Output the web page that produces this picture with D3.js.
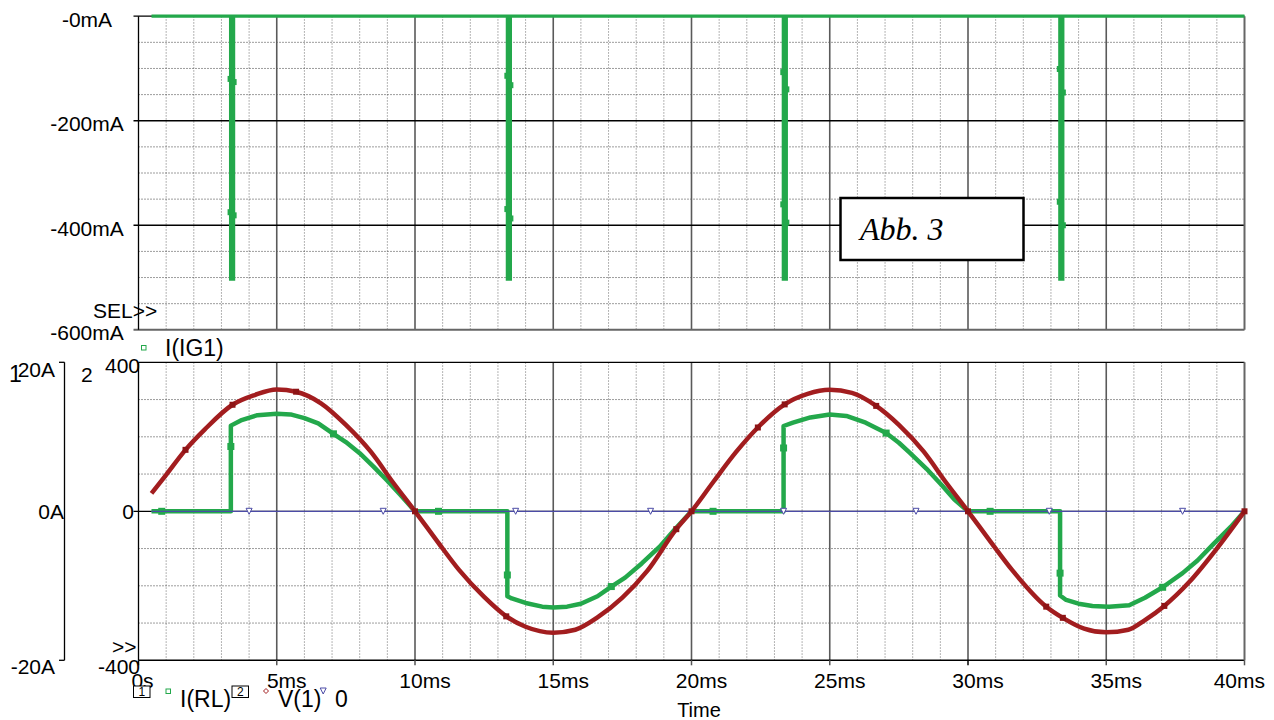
<!DOCTYPE html>
<html>
<head>
<meta charset="utf-8">
<script src="https://cdn.jsdelivr.net/npm/d3@7"></script>
<style>
  html, body { margin: 0; padding: 0; background: #fff; }
  svg { display: block; }
  text { font-family: "Liberation Sans", Arial, sans-serif; fill: #000; }
</style>
</head>
<body>
<svg id="chart" width="1274" height="720"></svg>
<script>
// ---------------- DATA ----------------
const xTickValues = [0, 5, 10, 15, 20, 25, 30, 35, 40];
const xTickLabels = ["0s", "5ms", "10ms", "15ms", "20ms", "25ms", "30ms", "35ms", "40ms"];

const topTickValues = [0, -200, -400, -600];
const topTickLabels = ["-0mA", "-200mA", "-400mA", "-600mA"];

// I(IG1) in mA (top plot)
const igTime = [0.47, 3.33, 3.33, 3.44, 3.44, 13.34, 13.34, 13.45, 13.45,
                23.32, 23.32, 23.43, 23.43, 33.32, 33.32, 33.43, 33.43, 40];
const igMA   = [0, 0, -503, -503, 0, 0, -503, -503, 0,
                0, -503, -503, 0, 0, -503, -503, 0, 0];
const igMarkT = [3.33, 3.44, 3.33, 3.44, 13.34, 13.45, 13.34, 13.45,
                 23.32, 23.43, 23.32, 23.43, 33.32, 33.43, 33.32, 33.43];
const igMarkV = [-120, -126, -375, -381, -114, -132, -369, -387,
                 -107, -140, -360, -395, -101, -146, -355, -400];

// I(RL) in A (bottom plot, axis 1)
const rlTime = [0.47, 3.34, 3.34, 3.7, 4.3, 5.0, 5.5, 6.0, 6.5, 7.05, 7.5, 8.0, 8.5, 9.0, 9.5, 10.0,
                13.34, 13.34, 13.5, 14.0, 14.6, 15.0, 15.5, 16.0, 16.6, 17.1, 17.6, 18.2, 18.85, 19.4, 20.0,
                23.33, 23.33, 23.67, 24.3, 25.0, 25.6, 26.3, 27.04, 27.5, 27.88, 28.5, 29.08, 29.5, 30.0,
                33.33, 33.33, 33.55, 34.0, 34.5, 35.1, 35.83, 36.4, 37.04, 37.76, 38.3, 38.9, 39.5, 40.0];
const rlAmp  = [0, 0, 11.5, 12.2, 12.9, 13.1, 13.0, 12.5, 11.8, 10.4, 9.3, 7.8, 6.0, 4.1, 2.1, 0,
                0, -11.4, -11.7, -12.3, -12.8, -12.9, -12.8, -12.4, -11.4, -10.1, -8.9, -7.0, -4.75, -2.4, 0,
                0, 11.45, 11.9, 12.6, 13.0, 12.8, 11.9, 10.5, 9.2, 7.9, 5.7, 3.4, 1.6, 0,
                0, -11.3, -11.9, -12.4, -12.7, -12.8, -12.6, -11.6, -10.2, -8.3, -6.6, -4.3, -2.1, 0];
const rlMarkT = [0.84, 3.34, 7.05, 10.85, 13.34, 17.1, 20.78, 23.33, 27.04, 30.8, 33.33, 37.04];
const rlMarkV = [0, 8.7, 10.4, 0, -8.55, -10.1, 0, 8.5, 10.5, 0, -8.3, -10.2];

// V(1) in V (bottom plot, axis 2)
const vTime = [0.47, 1.0, 1.7, 2.4, 3.4, 4.2, 5.0, 5.7, 6.6, 7.5, 8.4, 9.2, 10,
               10.8, 11.6, 12.5, 13.3, 14.0, 15.0, 15.8, 16.6, 17.5, 18.4, 19.45, 20,
               20.8, 21.6, 22.4, 23.37, 24.2, 25, 25.8, 26.68, 27.5, 28.4, 29.2, 30,
               30.8, 31.6, 32.83, 33.43, 34.2, 35, 35.8, 36.4, 37.1, 38, 39, 40];
const vVolt = [48, 98, 165, 220, 286, 312, 327, 321, 290, 232, 160, 78, 0,
               -80, -158, -230, -282, -310, -326, -318, -285, -232, -160, -48, 0,
               80, 158, 225, 287, 315, 326, 318, 283, 232, 160, 78, 0,
               -80, -158, -256, -286, -315, -325, -318, -292, -254, -190, -100, 0];
const vMarkT = [1.7, 3.4, 5.7, 10, 13.3, 19.45, 20, 22.4, 23.37, 26.68, 30, 32.83, 33.43, 37.1, 40];
const vMarkV = [165, 286, 321, 0, -282, -48, 0, 225, 287, 283, 0, -256, -286, -254, 0];

// "0" reference trace
const zeroTime = [0.47, 40];
const zeroVal  = [0, 0];
const zeroMarkT = [4.0, 8.85, 13.64, 18.52, 23.33, 28.12, 32.94, 37.76];

// ---------------- STYLE ----------------
const GREEN = "#23a84b";
const RED = "#a21d1f";
const BLUE = "#4b4ba6";

// ---------------- SCALES ----------------
const svg = d3.select("#chart");
const x = d3.scaleLinear().domain([0, 40]).range([138.5, 1244.5]);
const yTop = d3.scaleLinear().domain([-600, 0]).range([329.8, 16.2]);
const yV = d3.scaleLinear().domain([-400, 400]).range([660.3, 362.3]);
const yI = d3.scaleLinear().domain([-20, 20]).range([660.3, 362.3]);

const X0 = x(0), X1 = x(40);

// ---------------- GRID ----------------
const grid = svg.append("g");
const minorT = d3.range(1, 40).filter(t => t % 5 !== 0);
const majorT = d3.range(5, 40, 5);

function vGrid(y0, y1) {
  grid.selectAll(null).data(minorT).enter().append("line")
    .attr("x1", d => x(d)).attr("x2", d => x(d))
    .attr("y1", y0).attr("y2", y1)
    .attr("stroke", "#9c9c9c").attr("stroke-width", 1)
    .attr("stroke-dasharray", "1.5,1.5");
}
vGrid(yTop(0), yTop(-600));
vGrid(yV(400), yV(-400));

// top horizontal minor every 50 mA
const topMinor = d3.range(-550, 0, 50).filter(v => v % 200 !== 0);
grid.selectAll(null).data(topMinor).enter().append("line")
  .attr("x1", X0).attr("x2", X1)
  .attr("y1", d => yTop(d)).attr("y2", d => yTop(d))
  .attr("stroke", "#3a3a3a").attr("stroke-width", 1).attr("stroke-dasharray", "1,2");
// bottom horizontal minor every 100 V
const botMinor = [-300, -200, -100, 100, 200, 300];
grid.selectAll(null).data(botMinor).enter().append("line")
  .attr("x1", X0).attr("x2", X1)
  .attr("y1", d => yV(d)).attr("y2", d => yV(d))
  .attr("stroke", "#3a3a3a").attr("stroke-width", 1).attr("stroke-dasharray", "1,2");

// major verticals
[[yTop(0), yTop(-600)], [yV(400), yV(-400)]].forEach(([a, b]) => {
  grid.selectAll(null).data(majorT).enter().append("line")
    .attr("x1", d => x(d)).attr("x2", d => x(d))
    .attr("y1", a).attr("y2", b)
    .attr("stroke", "#5a5a5a").attr("stroke-width", 1.6);
});
// major horizontals
[-200, -400].forEach(v => grid.append("line")
  .attr("x1", X0 - 5).attr("x2", X1).attr("y1", yTop(v)).attr("y2", yTop(v))
  .attr("stroke", "#000").attr("stroke-width", 1.3));
grid.append("line").attr("x1", X0 - 5).attr("x2", X1).attr("y1", yV(0)).attr("y2", yV(0))
  .attr("stroke", "#000").attr("stroke-width", 1.3);

// frames
const fr = svg.append("g");
fr.append("line").attr("x1", X0 - 5).attr("x2", X1).attr("y1", yTop(0)).attr("y2", yTop(0)).attr("stroke", "#000").attr("stroke-width", 1.3);
fr.append("line").attr("x1", X0 - 5).attr("x2", X1).attr("y1", yTop(-600)).attr("y2", yTop(-600)).attr("stroke", "#666").attr("stroke-width", 2);
fr.append("line").attr("x1", X0).attr("x2", X0).attr("y1", yTop(0)).attr("y2", yTop(-600)).attr("stroke", "#000").attr("stroke-width", 1.3);
fr.append("line").attr("x1", X1).attr("x2", X1).attr("y1", yTop(0)).attr("y2", yTop(-600)).attr("stroke", "#666").attr("stroke-width", 2);
fr.append("line").attr("x1", X0).attr("x2", X1).attr("y1", yV(400)).attr("y2", yV(400)).attr("stroke", "#000").attr("stroke-width", 1.3);
fr.append("line").attr("x1", X0).attr("x2", X1).attr("y1", yV(-400)).attr("y2", yV(-400)).attr("stroke", "#000").attr("stroke-width", 1.5);
fr.append("line").attr("x1", X0).attr("x2", X0).attr("y1", yV(400)).attr("y2", yV(-400)).attr("stroke", "#000").attr("stroke-width", 1.3);
fr.append("line").attr("x1", X1).attr("x2", X1).attr("y1", yV(400)).attr("y2", yV(-400)).attr("stroke", "#666").attr("stroke-width", 2);
fr.selectAll(null).data(xTickValues).enter().append("line")
  .attr("x1", d => x(d)).attr("x2", d => x(d))
  .attr("y1", yV(-400)).attr("y2", yV(-400) + 5)
  .attr("stroke", d => (d === 0 || d === 30) ? "#000" : "#555").attr("stroke-width", 1.5);

// axis 1 (I(RL)) separate line
fr.append("line").attr("x1", 64.5).attr("x2", 64.5).attr("y1", yI(20)).attr("y2", yI(-20)).attr("stroke", "#000").attr("stroke-width", 1.3);
[20, -20].forEach(v => fr.append("line").attr("x1", 59).attr("x2", 64.5).attr("y1", yI(v)).attr("y2", yI(v)).attr("stroke", "#000").attr("stroke-width", 1.3));

// ---------------- TRACES ----------------
const traces = svg.append("g");

// top I(IG1)
const igData = igTime.map((t, i) => [t, igMA[i]]);
traces.append("path").datum(igData)
  .attr("d", d3.line().x(d => x(d[0])).y(d => yTop(d[1])))
  .attr("fill", "none").attr("stroke", GREEN).attr("stroke-width", 3.2);
traces.selectAll(null).data(igMarkT.map((t, i) => [t, igMarkV[i]])).enter().append("rect")
  .attr("x", d => x(d[0]) - 3).attr("y", d => yTop(d[1]) - 3)
  .attr("width", 6).attr("height", 6).attr("fill", GREEN);

// I(RL)
const rlData = rlTime.map((t, i) => [t, rlAmp[i]]);
traces.append("path").datum(rlData)
  .attr("d", d3.line().x(d => x(d[0])).y(d => yI(d[1])))
  .attr("fill", "none").attr("stroke", GREEN).attr("stroke-width", 4.5)
  .attr("stroke-linejoin", "round");
traces.selectAll(null).data(rlMarkT.map((t, i) => [t, rlMarkV[i]])).enter().append("rect")
  .attr("x", d => x(d[0]) - 3.5).attr("y", d => yI(d[1]) - 3.5)
  .attr("width", 7).attr("height", 7).attr("fill", GREEN);

// "0" trace
const zData = zeroTime.map((t, i) => [t, zeroVal[i]]);
traces.append("path").datum(zData)
  .attr("d", d3.line().x(d => x(d[0])).y(d => yV(d[1])))
  .attr("fill", "none").attr("stroke", BLUE).attr("stroke-width", 1.3);

// V(1)
const vData = vTime.map((t, i) => [t, vVolt[i]]);
traces.append("path").datum(vData)
  .attr("d", d3.line().curve(d3.curveMonotoneX).x(d => x(d[0])).y(d => yV(d[1])))
  .attr("fill", "none").attr("stroke", RED).attr("stroke-width", 4.5)
  .attr("stroke-linejoin", "round");
traces.selectAll(null).data(vMarkT.map((t, i) => [t, vMarkV[i]])).enter().append("rect")
  .attr("x", d => x(d[0]) - 3).attr("y", d => yV(d[1]) - 3)
  .attr("width", 6).attr("height", 6).attr("fill", "#8e1416");

// zero-trace triangles
const tri = (cx, cy) => `M${cx - 3},${cy - 3}L${cx + 3},${cy - 3}L${cx},${cy + 3}Z`;
traces.selectAll(null).data(zeroMarkT).enter().append("path")
  .attr("d", d => tri(x(d), yV(0)))
  .attr("fill", "#fff").attr("stroke", BLUE).attr("stroke-width", 1);

// ---------------- TEXT ----------------
const txt = svg.append("g").style("font-size", "21px");

txt.selectAll(null).data(topTickValues).enter().append("text")
  .attr("x", 87).attr("y", d => yTop(d) + 10.5)
  .attr("text-anchor", "middle")
  .text((d, i) => topTickLabels[i]);

txt.append("text").attr("x", 93).attr("y", 318).text("SEL>>");
txt.append("text").attr("x", 112).attr("y", 654).text(">>");

txt.append("text").attr("x", 55).attr("y", yI(20) + 14.5).attr("text-anchor", "end").text("20A");
txt.append("text").attr("x", 64).attr("y", yI(0) + 7.5).attr("text-anchor", "end").text("0A");
txt.append("text").attr("x", 55).attr("y", yI(-20) + 13.5).attr("text-anchor", "end").text("-20A");
txt.append("text").attr("x", 140).attr("y", yV(400) + 11).attr("text-anchor", "end").text("400");
txt.append("text").attr("x", 134).attr("y", yV(0) + 7.5).attr("text-anchor", "end").text("0");
txt.append("text").attr("x", 140).attr("y", yV(-400) + 13.5).attr("text-anchor", "end").text("-400");
txt.append("text").attr("x", 9).attr("y", 382).style("font-size", "23px").text("1");
txt.append("text").attr("x", 81).attr("y", 382).style("font-size", "21px").text("2");

txt.selectAll(null).data(xTickValues).enter().append("text")
  .attr("x", (d, i) => i === 0 ? x(d) + 4 : (i === xTickValues.length - 1 ? 1265 : x(d) + 10))
  .attr("y", 687.5)
  .attr("text-anchor", (d, i) => i === xTickValues.length - 1 ? "end" : "middle")
  .text((d, i) => xTickLabels[i]);

txt.append("text").attr("x", 699).attr("y", 717).attr("text-anchor", "middle").style("font-size", "20px").text("Time");

// top legend
svg.append("rect").attr("x", 141.5).attr("y", 345.5).attr("width", 4.5).attr("height", 4.5)
  .attr("fill", "#fff").attr("stroke", GREEN).attr("stroke-width", 1);
txt.append("text").attr("x", 165).attr("y", 355.5).style("font-size", "23px").text("I(IG1)");

// bottom legend
const lg = svg.append("g");
[[133.5, "1"], [232, "2"]].forEach(([bx, s]) => {
  lg.append("rect").attr("x", bx).attr("y", 686).attr("width", 16.5).attr("height", 11.5)
    .attr("fill", "#fff").attr("stroke", "#000").attr("stroke-width", 1);
  lg.append("text").attr("x", bx + 8.3).attr("y", 696).attr("text-anchor", "middle")
    .style("font-size", "12px").text(s);
});
lg.append("rect").attr("x", 166).attr("y", 689).attr("width", 4.5).attr("height", 4.5)
  .attr("fill", "#fff").attr("stroke", GREEN).attr("stroke-width", 1);
lg.append("path").attr("d", "M266,688.5L268.5,691L266,693.5L263.5,691Z")
  .attr("fill", "#fff").attr("stroke", RED).attr("stroke-width", 1);
lg.append("path").attr("d", tri(323.2, 691))
  .attr("fill", "#fff").attr("stroke", BLUE).attr("stroke-width", 1);
lg.append("text").attr("x", 180).attr("y", 707).style("font-size", "23px").text("I(RL)");
lg.append("text").attr("x", 278).attr("y", 707).style("font-size", "23px").text("V(1)");
lg.append("text").attr("x", 335).attr("y", 707).style("font-size", "23px").text("0");

// Abb. 3 box
svg.append("rect").attr("x", 840.5).attr("y", 198).attr("width", 183).attr("height", 62)
  .attr("fill", "#fff").attr("stroke", "#000").attr("stroke-width", 2.5);
svg.append("text").attr("x", 860).attr("y", 239.5)
  .style("font-family", "'Liberation Serif', 'Times New Roman', serif")
  .style("font-style", "italic").style("font-size", "32px").text("Abb. 3");
</script>
</body>
</html>
